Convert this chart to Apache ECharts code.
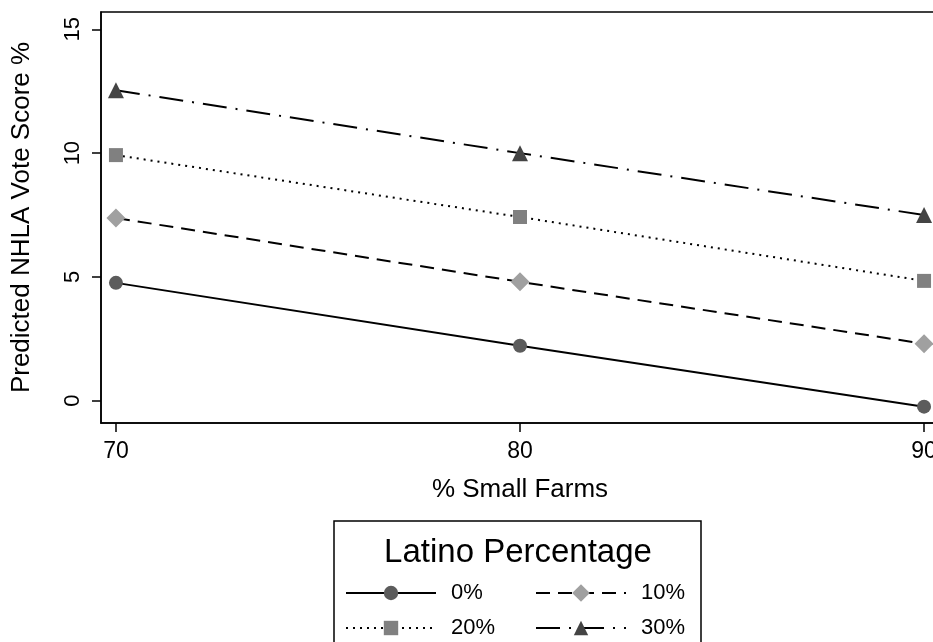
<!DOCTYPE html>
<html>
<head>
<meta charset="utf-8">
<script src="https://cdn.jsdelivr.net/npm/echarts@6/dist/echarts.min.js"></script>
<style>
  html, body { margin: 0; padding: 0; background: #fff; }
  #main { width: 933px; height: 642px; }
</style>
</head>
<body>
<div id="main"></div>
<script>
// data
let farms = [70, 80, 90];
let xTicks = [70, 80, 90];
let yTicks = [0, 5, 10, 15];
let latino0 = [4.76, 2.22, -0.24];
let latino10 = [7.38, 4.8, 2.3];
let latino20 = [9.92, 7.42, 4.84];
let latino30 = [12.54, 10.0, 7.5];

let font = "Liberation Sans";

function pairs(ys) {
  return farms.map(function (x, i) { return [x, ys[i]]; });
}

function line(name, ys, dash, symbol, size, color) {
  return {
    name: name,
    type: 'line',
    data: pairs(ys),
    symbol: symbol,
    symbolSize: size,
    itemStyle: { color: color },
    lineStyle: { color: '#000', width: 2, type: dash },
    emphasis: { disabled: true },
    z: 3
  };
}

var myChart = echarts.init(document.getElementById('main'));

// one legend per cell so the two columns line up like the original
function leg(name, left, top, h) {
  return {
    data: [name],
    left: left,
    top: top,
    itemWidth: 90,
    itemHeight: h,
    selectedMode: false,
    textStyle: { fontFamily: font, fontSize: 22, color: '#000', padding: [0, 0, 0, 10] }
  };
}

var option = {
  animation: false,
  backgroundColor: '#fff',
  grid: {
    left: 101, top: 12, right: -6, bottom: 219,
    outerBoundsMode: 'none',
    containLabel: false,
    show: true, borderColor: '#000', borderWidth: 1.5,
    backgroundColor: 'transparent'
  },
  xAxis: {
    type: 'value',
    min: 69.63, max: 90.37,
    name: '% Small Farms',
    nameLocation: 'middle',
    nameGap: 54,
    nameTextStyle: { fontFamily: font, fontSize: 26, color: '#000' },
    axisLine: { onZero: false, lineStyle: { color: '#000', width: 1.5 } },
    axisTick: { show: true, length: 9, customValues: xTicks, lineStyle: { color: '#000', width: 1.5 } },
    axisLabel: { customValues: xTicks, margin: 17, fontFamily: font, fontSize: 23, color: '#000' },
    splitLine: { show: false }
  },
  yAxis: {
    type: 'value',
    min: -0.9, max: 15.7,
    name: 'Predicted NHLA Vote Score %',
    nameLocation: 'middle',
    nameRotate: 90,
    nameGap: 66,
    nameTextStyle: { fontFamily: font, fontSize: 26, color: '#000' },
    axisLine: { show: true, onZero: false, lineStyle: { color: '#000', width: 1.5 } },
    axisTick: { show: true, length: 9, customValues: yTicks, lineStyle: { color: '#000', width: 1.5 } },
    axisLabel: { customValues: yTicks, rotate: 90, margin: 17, fontFamily: font, fontSize: 22, color: '#000' },
    splitLine: { show: false }
  },
  legend: [
    leg('0%', 340, 577, 18),
    leg('10%', 530, 577, 22),
    leg('20%', 340, 612, 18),
    leg('30%', 530, 612, 18)
  ],
  graphic: [
    {
      type: 'rect',
      shape: { x: 334, y: 521, width: 367, height: 140 },
      style: { fill: '#fff', stroke: '#000', lineWidth: 1.5 },
      z: -1
    },
    {
      type: 'text',
      x: 518, y: 553,
      style: {
        text: 'Latino Percentage',
        font: '33px "Liberation Sans"',
        fill: '#000',
        textAlign: 'center',
        textVerticalAlign: 'middle'
      }
    }
  ],
  series: [
    line('0%', latino0, 'solid', 'circle', 14, '#5c5c5c'),
    line('10%', latino10, [14, 8], 'diamond', 19, '#a0a0a0'),
    line('20%', latino20, [2, 5], 'rect', 14, '#808080'),
    line('30%', latino30, [24, 9, 2, 9], 'triangle', 16, '#444444')
  ]
};

myChart.setOption(option);
</script>
</body>
</html>
